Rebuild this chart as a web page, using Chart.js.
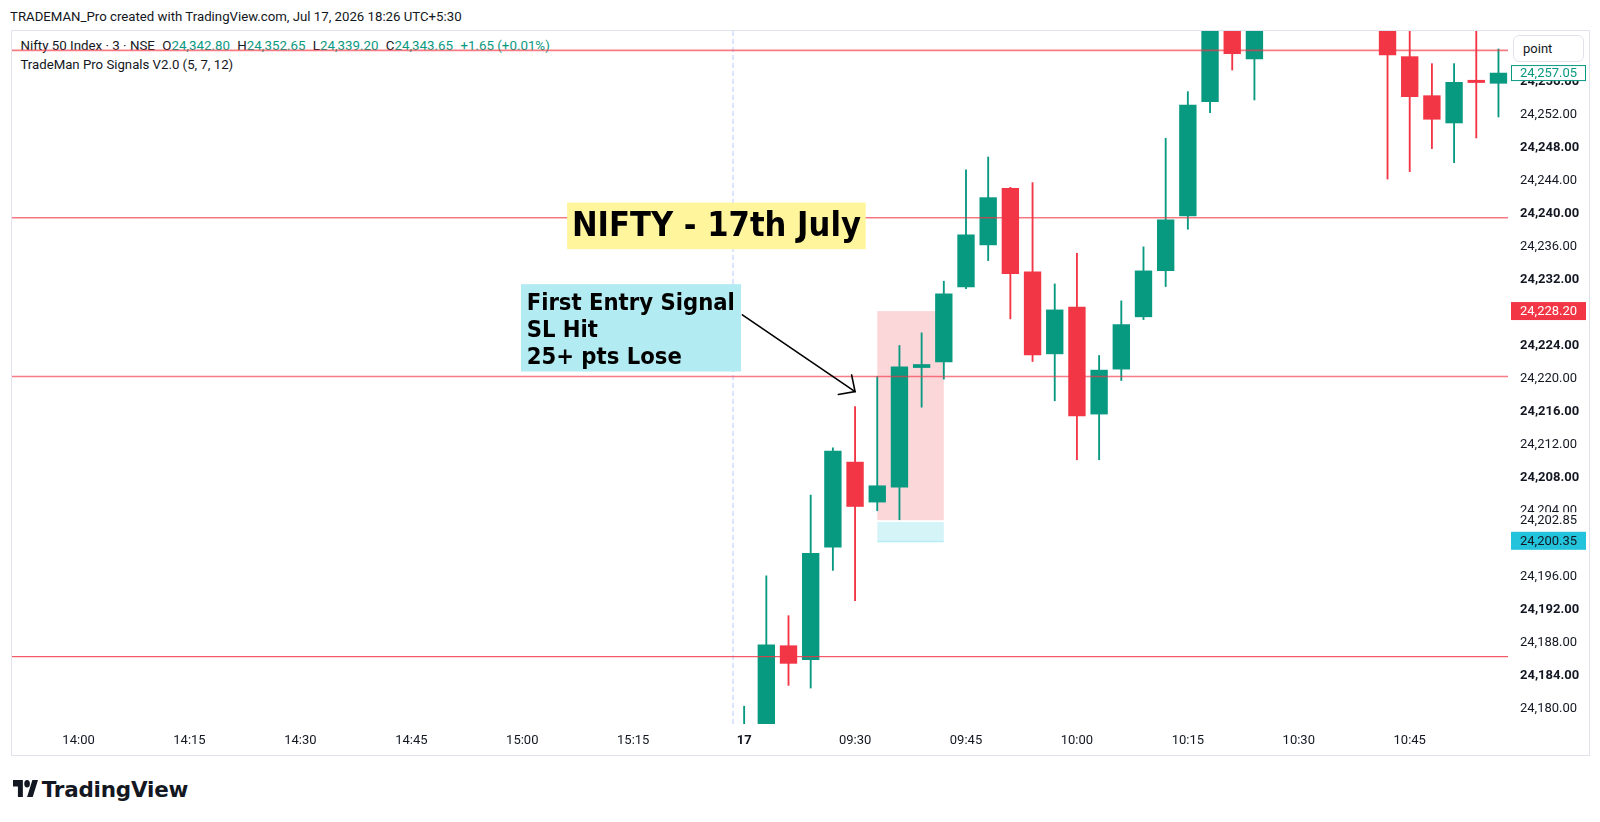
<!DOCTYPE html>
<html>
<head>
<meta charset="utf-8">
<title>NIFTY - 17th July</title>
<script src="https://cdn.jsdelivr.net/npm/chart.js@4.4.1/dist/chart.umd.min.js"></script>
<style>
  html, body { margin:0; padding:0; background:#ffffff; }
  body { width:1600px; height:822px; position:relative; overflow:hidden; font-family: Roboto, 'Liberation Sans', sans-serif; color:#131722; }
  .fit { position:absolute; white-space:nowrap; display:inline-block; line-height:18px; font-size:13px; }
  #hdr { left:10px; top:8px; }
  #frame { position:absolute; left:11px; top:30px; width:1577px; height:724px; border:1px solid #e0e3eb; background:#fff; }
  #lg1 { left:8.4px; top:6px; z-index:0; }
  #lg2 { left:8.4px; top:24.5px; z-index:0; }
  .g { color:#089981; }
  .sp { margin-left:0.55em; }
  #chart { position:absolute; left:0; top:0; z-index:1; }
  #pointBtn { position:absolute; left:1513px; top:35px; width:71px; height:27px; box-sizing:border-box; border:1px solid #e0e3eb; border-radius:6px; background:#fff; font-size:13px; line-height:25px; padding-left:9px; z-index:3; color:#131722; }
  #logoIcon { position:absolute; left:13px; top:780px; width:25px; height:17px; }
  #logoText { position:absolute; left:41.7px; top:779px; font-family:'DejaVu Sans', sans-serif; font-weight:bold; font-size:21px; line-height:21px; white-space:nowrap; color:#131722; letter-spacing:-0.2px; }
</style>
</head>
<body>
<div id="hdr" class="fit">TRADEMAN_Pro created with TradingView.com, Jul 17, 2026 18:26 UTC+5:30</div>
<div id="frame">
  <div id="lg1" class="fit">Nifty 50 Index · 3 · NSE<span class="sp">O</span><span class="g">24,342.80</span><span class="sp">H</span><span class="g">24,352.65</span><span class="sp">L</span><span class="g">24,339.20</span><span class="sp">C</span><span class="g">24,343.65</span><span class="sp g">+1.65 (+0.01%)</span></div>
  <div id="lg2" class="fit">TradeMan Pro Signals V2.0 (5, 7, 12)</div>
  <canvas id="chart" width="1577" height="724"></canvas>
</div>
<div id="pointBtn">point</div>
<svg id="logoIcon" viewBox="0 4 35.5 18" preserveAspectRatio="none"><path fill="#131722" d="M14 22H7V11H0V4h14v18zM28 22h-8l7.5-18h8L28 22z"/><circle fill="#131722" cx="20" cy="8" r="4"/></svg>
<div id="logoText">TradingView</div>

<script>
// ---------------- DATA ----------------
// every 3-minute slot on the time axis (prev. session tail + 17 July morning)
const slotTimes = [
  '13:51','13:54','13:57','14:00','14:03','14:06','14:09','14:12','14:15','14:18','14:21','14:24','14:27',
  '14:30','14:33','14:36','14:39','14:42','14:45','14:48','14:51','14:54','14:57','15:00','15:03','15:06',
  '15:09','15:12','15:15','15:18','15:21','15:24','15:27',
  '09:15','09:18','09:21','09:24','09:27','09:30','09:33','09:36','09:39','09:42','09:45','09:48','09:51',
  '09:54','09:57','10:00','10:03','10:06','10:09','10:12','10:15','10:18','10:21','10:24','10:27','10:30',
  '10:33','10:36','10:39','10:42','10:45','10:48','10:51','10:54','10:57'
];
const tickTimes  = ['14:00','14:15','14:30','14:45','15:00','15:15','09:15','09:30','09:45','10:00','10:15','10:30','10:45'];
const tickLabels = ['14:00','14:15','14:30','14:45','15:00','15:15','17','09:30','09:45','10:00','10:15','10:30','10:45'];

// price-axis tick values
const priceTicks = [24180, 24184, 24188, 24192, 24196, 24200, 24204, 24208, 24212, 24216, 24220,
                    24224, 24228, 24232, 24236, 24240, 24244, 24248, 24252, 24256, 24260];

// 3-minute candles of 17 July (null = bar outside the visible price range)
const candleTimes = [
  '09:15','09:18','09:21','09:24','09:27','09:30','09:33','09:36','09:39','09:42','09:45','09:48',
  '09:51','09:54','09:57','10:00','10:03','10:06','10:09','10:12','10:15','10:18','10:21','10:24',
  '10:27','10:30','10:33','10:36','10:39','10:42','10:45','10:48','10:51','10:54','10:57'
];
const openP = [
  24168.00, 24177.00, 24187.63, 24185.93, 24199.59, 24209.89, 24205.04, 24206.86, 24221.35, 24222.04, 24231.13, 24236.22,
  24243.09, 24232.95, 24223.01, 24228.67, 24215.71, 24221.16, 24227.50, 24233.11, 24239.73, 24253.58, 24266.00, 24258.76,
  null, null, null, null, null, 24266.50, 24259.04, 24254.31, 24251.00, 24256.18, 24255.81
];
const highP = [
  24180.30, 24196.10, 24191.27, 24205.89, 24211.62, 24216.63, 24220.26, 24224.02, 24225.56, 24231.82, 24245.31, 24246.88,
  24243.20, 24243.77, 24231.49, 24235.21, 24222.81, 24229.43, 24235.98, 24249.15, 24254.79, 24268.50, 24268.00, 24270.00,
  null, null, null, null, null, 24268.00, 24264.00, 24258.19, 24258.19, 24264.00, 24259.97
];
const lowP = [
  24163.00, 24174.00, 24182.82, 24182.50, 24196.76, 24193.08, 24203.99, 24202.90, 24216.55, 24219.95, 24230.92, 24234.32,
  24227.25, 24222.08, 24217.32, 24210.17, 24210.17, 24219.78, 24227.17, 24231.17, 24238.12, 24252.25, 24257.42, 24253.79,
  null, null, null, null, null, 24244.20, 24245.10, 24247.89, 24246.19, 24249.18, 24251.73
];
const closeP = [
  24175.50, 24187.75, 24185.49, 24198.82, 24211.22, 24204.51, 24207.02, 24221.44, 24221.72, 24230.28, 24237.43, 24241.95,
  24232.74, 24222.89, 24228.34, 24215.50, 24221.04, 24226.56, 24233.07, 24239.25, 24253.18, 24266.80, 24259.40, 24267.00,
  null, null, null, null, null, 24259.24, 24254.19, 24251.45, 24255.93, 24255.90, 24257.05
];

// horizontal red levels
const levelPrices = [24259.80, 24239.50, 24220.26, 24186.30];
const levelStrong = [false, true, false, true];
// signal zones (from / to candle)
const zoneTimes = ['09:33', '09:42'];
const stopZone  = [24202.85, 24228.20];
const entryZone = [24200.35, 24202.85];
// price-scale labels
const lastPrice  = 24257.05;
const stopLabel  = 24228.20;
const entryLabel = 24202.85;
const zoneLabel  = 24200.35;

const priceMin = 24178.14, priceMax = 24262.15;

// ---------------- HELPERS ----------------
const GREEN = '#089981', RED = '#f23645';
const slot = t => slotTimes.indexOf(t);
const fmt = v => Number(v).toLocaleString('en-US', {minimumFractionDigits: 2, maximumFractionDigits: 2});

const bodies = [], wicks = [], colors = [];
candleTimes.forEach((t, i) => {
  if (openP[i] == null) return;
  const c = closeP[i] >= openP[i] ? GREEN : RED;
  bodies.push({x: slot(t), y: [openP[i], closeP[i]]});
  wicks.push({x: slot(t), y: [lowP[i], highP[i]]});
  colors.push(c);
});

const xMin = 0, xMax = 67.43;
const sessionBreak = (slot('15:27') + slot('09:15')) / 2;

const levelSets = levelPrices.map((p, i) => ({
  type: 'line',
  data: [{x: xMin, y: p}, {x: xMax, y: p}],
  borderColor: levelStrong[i] ? RED : 'rgba(242,54,69,0.65)',
  borderWidth: levelStrong[i] ? 1 : 1.6,
  pointRadius: 0, clip: 0, order: 0
}));

// ---------------- OVERLAY PLUGIN ----------------
const FIT_FAMILY = "'DejaVu Sans Condensed', 'DejaVu Sans', sans-serif";
function fitSize(ctx, text, weight, family, target, base) {
  ctx.font = `${weight} ${base}px ${family}`;
  return base * target / ctx.measureText(text).width;
}

const overlay = {
  id: 'overlay',
  beforeDatasetsDraw(chart) {
    const {ctx, chartArea: a, scales: {x, y}} = chart;
    ctx.save();
    ctx.beginPath(); ctx.rect(a.left, a.top, a.right - a.left, a.bottom - a.top); ctx.clip();
    const x0 = x.getPixelForValue(slot(zoneTimes[0]));
    const x1 = x.getPixelForValue(slot(zoneTimes[1]));
    const sTop = y.getPixelForValue(stopZone[1]), sBot = y.getPixelForValue(stopZone[0]);
    ctx.fillStyle = 'rgba(242,54,69,0.2)';
    ctx.fillRect(x0, sTop, x1 - x0, sBot - sTop);
    const eTop = y.getPixelForValue(entryZone[1]), eBot = y.getPixelForValue(entryZone[0]);
    ctx.fillStyle = 'rgba(0,188,212,0.17)';
    ctx.fillRect(x0, eTop + 1.8, x1 - x0, eBot - eTop - 1.8);
    ctx.fillStyle = 'rgba(0,188,212,0.28)';
    ctx.fillRect(x0, eBot, x1 - x0, 1.5);
    ctx.restore();
  },
  afterDatasetsDraw(chart) {
    const {ctx, scales: {x, y}} = chart;
    ctx.save();
    // title box
    const tx0 = x.getPixelForValue(25.02), tx1 = x.getPixelForValue(38.48);
    const ty0 = y.getPixelForValue(24241.35), ty1 = y.getPixelForValue(24235.70);
    ctx.fillStyle = '#fff59d';
    ctx.fillRect(tx0, ty0, tx1 - tx0, ty1 - ty0);
    const title = 'NIFTY - 17th July';
    const ts = fitSize(ctx, title, 'bold', FIT_FAMILY, 289, 32);
    ctx.font = `bold ${ts}px ${FIT_FAMILY}`;
    ctx.fillStyle = '#000';
    ctx.textAlign = 'center'; ctx.textBaseline = 'middle';
    ctx.fillText(title, (tx0 + tx1) / 2, (ty0 + ty1) / 2 + 1);

    // note box
    const nx0 = x.getPixelForValue(22.94), nx1 = x.getPixelForValue(32.86);
    const ny0 = y.getPixelForValue(24231.46), ny1 = y.getPixelForValue(24220.87);
    ctx.fillStyle = '#b2ebf2';
    ctx.fillRect(nx0, ny0, nx1 - nx0, ny1 - ny0);
    const lines = ['First Entry Signal', 'SL Hit', '25+ pts Lose'];
    const ns = fitSize(ctx, lines[0], 'bold', FIT_FAMILY, 208.3, 23);
    ctx.font = `bold ${ns}px ${FIT_FAMILY}`;
    ctx.fillStyle = '#000';
    ctx.textAlign = 'left'; ctx.textBaseline = 'alphabetic';
    lines.forEach((l, i) => ctx.fillText(l, nx0 + 5.7, ny0 + 25.7 + i * 27.2));

    // arrow
    const ax0 = x.getPixelForValue(32.92), ay0 = y.getPixelForValue(24227.74);
    const ax1 = x.getPixelForValue(38.00), ay1 = y.getPixelForValue(24218.44);
    ctx.strokeStyle = '#000'; ctx.lineWidth = 1.6; ctx.lineCap = 'round';
    ctx.beginPath(); ctx.moveTo(ax0, ay0); ctx.lineTo(ax1, ay1); ctx.stroke();
    const ang = Math.atan2(ay1 - ay0, ax1 - ax0), L = 17, spread = 44 * Math.PI / 180;
    ctx.beginPath();
    ctx.moveTo(ax1 + L * Math.cos(ang + Math.PI - spread), ay1 + L * Math.sin(ang + Math.PI - spread));
    ctx.lineTo(ax1, ay1);
    ctx.lineTo(ax1 + L * Math.cos(ang + Math.PI + spread), ay1 + L * Math.sin(ang + Math.PI + spread));
    ctx.stroke();
    ctx.restore();
  },
  afterDraw(chart) {
    const {ctx, chartArea: a, scales: {y}} = chart;
    const bx0 = a.right + 3, bx1 = a.right + 78;
    function badge(val, fill, stroke, color, h) {
      const cy = y.getPixelForValue(val);
      ctx.fillStyle = fill;
      ctx.fillRect(bx0, cy - h / 2, bx1 - bx0, h);
      if (stroke) { ctx.strokeStyle = stroke; ctx.lineWidth = 1; ctx.strokeRect(bx0 + 0.5, cy - h / 2 + 0.5, bx1 - bx0 - 1, h - 1); }
      ctx.fillStyle = color;
      ctx.font = '13px Roboto, sans-serif';
      ctx.textAlign = 'left'; ctx.textBaseline = 'middle';
      ctx.fillText(fmt(val), a.right + 12, cy + 0.5);
    }
    ctx.save();
    badge(entryLabel, '#ffffff', null, '#131722', 16);
    badge(zoneLabel, '#22c3db', null, '#131722', 18);
    badge(stopLabel, RED, null, '#ffffff', 18);
    badge(lastPrice, '#ffffff', GREEN, GREEN, 16);
    ctx.restore();
  }
};

// ---------------- CHART ----------------
Chart.defaults.font.family = 'Roboto, sans-serif';
Chart.defaults.color = '#131722';

new Chart(document.getElementById('chart'), {
  type: 'bar',
  data: {
    datasets: [
      ...levelSets,
      {
        type: 'line',
        data: [{x: sessionBreak, y: priceMin}, {x: sessionBreak, y: priceMax}],
        borderColor: 'rgba(41,98,255,0.17)', borderWidth: 2, borderDash: [5, 3],
        pointRadius: 0, clip: 0, order: 5
      },
      { type: 'bar', data: bodies, backgroundColor: colors, barThickness: 16.7, grouped: false, minBarLength: 2, clip: 0, order: 2 },
      { type: 'bar', data: wicks, backgroundColor: colors, barThickness: 1.2, grouped: false, clip: 0, order: 3 }
    ]
  },
  options: {
    responsive: false,
    animation: false,
    events: [],
    layout: { padding: 0 },
    plugins: { legend: { display: false }, tooltip: { enabled: false } },
    scales: {
      x: {
        type: 'linear', min: xMin, max: xMax, offset: false,
        grid: { display: false, drawTicks: false }, border: { display: false },
        afterBuildTicks: s => { s.ticks = tickTimes.map(t => ({ value: slot(t) })); },
        afterFit: s => { s.height = 31; s.paddingLeft = 0; s.paddingRight = 0; },
        ticks: {
          autoSkip: false, maxRotation: 0, minRotation: 0, padding: 9, color: '#131722',
          callback: v => tickLabels[tickTimes.indexOf(slotTimes[Math.round(v)])],
          font: c => ({ family: 'Roboto, sans-serif', size: 13, weight: (c.tick && c.tick.value === slot('09:15')) ? 'bold' : 'normal' })
        }
      },
      y: {
        type: 'linear', position: 'right', min: priceMin, max: priceMax,
        grid: { display: false, drawTicks: false }, border: { display: false },
        afterBuildTicks: s => { s.ticks = priceTicks.map(v => ({ value: v })); },
        afterFit: s => { s.width = 81; s.paddingTop = 0; s.paddingBottom = 0; },
        ticks: {
          autoSkip: false, padding: 12, color: '#131722',
          callback: v => fmt(v),
          font: c => ({ family: 'Roboto, sans-serif', size: 13, weight: (c.tick && Math.round(c.tick.value) % 8 === 0) ? 'bold' : 'normal' })
        }
      }
    }
  },
  plugins: [overlay]
});

// fit header texts to their measured widths in the reference
function fitEl(id, target) {
  const el = document.getElementById(id);
  const w = el.getBoundingClientRect().width;
  const fs = parseFloat(getComputedStyle(el).fontSize);
  el.style.fontSize = (fs * target / w) + 'px';
}
fitEl('hdr', 452);
fitEl('lg1', 529.6);
fitEl('lg2', 213);
fitEl('logoText', 146.6);
</script>
</body>
</html>
